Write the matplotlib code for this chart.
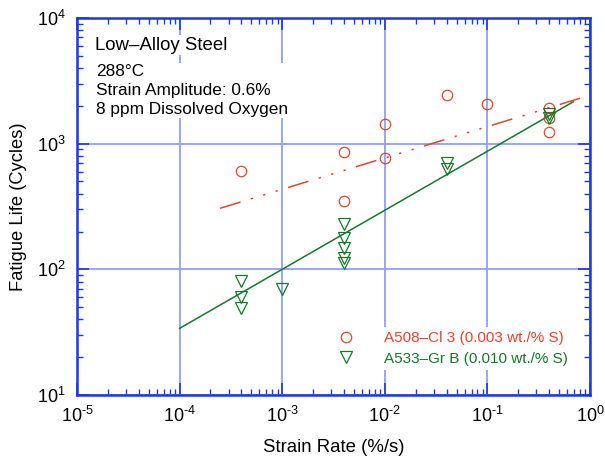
import matplotlib
matplotlib.use("Agg")
import matplotlib.pyplot as plt
import numpy as np

plt.rcParams['font.family'] = ['Liberation Sans', 'DejaVu Sans']
plt.rcParams['mathtext.fontset'] = 'custom'
plt.rcParams['mathtext.rm'] = 'Liberation Sans'
plt.rcParams['mathtext.it'] = 'Liberation Sans'
plt.rcParams['axes.unicode_minus'] = False

# Data (strain rate %/s, fatigue life cycles)
a508_rate = [4e-4, 4e-3, 4e-3, 1e-2, 1e-2, 4e-2, 1e-1, 4e-1, 4e-1, 4e-1]
a508_life = [609, 863, 350, 1427, 769, 2454, 2080, 1914, 1610, 1239]
a533_rate = [4e-4, 4e-4, 4e-4, 1e-3, 4e-3, 4e-3, 4e-3, 4e-3, 4e-3, 4e-2, 4e-2, 4e-1, 4e-1]
a533_life = [81, 60, 49, 70, 231, 177, 147, 122, 113, 698, 626, 1713, 1592]

# Fit lines
a508_fit_rate = [2.48e-4, 0.8]
a508_fit_life = [306, 2297]
a533_fit_rate = [1e-4, 0.687]
a533_fit_life = [33.9, 2153]

red = '#e8432c'
green = '#17782a'
blue = '#1c38e0'
grid = '#8fa0f2'


def pow10_fmt(v, pos):
    e = int(round(np.log10(v)))
    return '$10^{\\text{%d}}$' % e


fig = plt.figure(figsize=(6.05, 4.59), dpi=100)
ax = fig.add_axes([77/605, 1-395/459, (590-77)/605, (395-18)/459])
ax.set_xscale('log')
ax.set_yscale('log')
ax.set_xlim(1e-5, 1)
ax.set_ylim(10, 1e4)

ax.grid(True, which='major', color=grid, linewidth=1.3, zorder=0)

ax.plot(a508_fit_rate, a508_fit_life, color=red, linewidth=1.1,
        dashes=(14, 7, 1.5, 7, 1.5, 7, 1.5, 7), zorder=2)
ax.plot(a533_fit_rate, a533_fit_life, color=green, linewidth=1.1, zorder=2)

ax.plot(a508_rate, a508_life, linestyle='none', marker='o', markersize=7.5,
        markerfacecolor='none', markeredgecolor=red, markeredgewidth=0.9, zorder=3,
        label='A508\u2013Cl 3 (0.003 wt./% S)')
ax.plot(a533_rate, a533_life, linestyle='none', marker='v', markersize=8.5,
        markerfacecolor='none', markeredgecolor=green, markeredgewidth=0.9, zorder=3,
        label='A533\u2013Gr B (0.010 wt./% S)')

for s in ax.spines.values():
    s.set_color(blue)
    s.set_linewidth(1.8)

ax.tick_params(which='both', direction='in', top=True, right=True, color=blue,
               labelsize=13, labelcolor='black')
ax.tick_params(which='major', length=8.5, width=1.2, pad=8)
ax.tick_params(which='minor', length=4.5, width=1.0)
ax.xaxis.set_minor_locator(matplotlib.ticker.LogLocator(base=10, subs=np.arange(2, 10), numticks=20))
ax.yaxis.set_minor_locator(matplotlib.ticker.LogLocator(base=10, subs=np.arange(2, 10), numticks=20))
ax.xaxis.set_minor_formatter(matplotlib.ticker.NullFormatter())
ax.yaxis.set_minor_formatter(matplotlib.ticker.NullFormatter())
ax.xaxis.set_major_formatter(matplotlib.ticker.FuncFormatter(pow10_fmt))
ax.yaxis.set_major_formatter(matplotlib.ticker.FuncFormatter(pow10_fmt))

ax.set_xlabel('Strain Rate (%/s)', fontsize=13.4, labelpad=9)
ax.set_ylabel('Fatigue Life (Cycles)', fontsize=13.2, labelpad=7)

ax.text(0.036, 0.928, 'Low\u2013Alloy Steel', transform=ax.transAxes, fontsize=13.4,
        va='center', ha='left', zorder=4,
        bbox=dict(facecolor='white', edgecolor='none', pad=1))
ax.text(0.037, 0.877, '288\u00b0C\nStrain Amplitude: 0.6%\n8 ppm Dissolved Oxygen',
        transform=ax.transAxes, fontsize=12.4, va='top', ha='left', linespacing=1.3,
        zorder=4, bbox=dict(facecolor='white', edgecolor='none', pad=1))

leg = ax.legend(loc='lower right', bbox_to_anchor=(0.98, 0.045), frameon=True,
                fontsize=11, handletextpad=1.47, borderpad=0.3, labelspacing=0.43,
                edgecolor='none', facecolor='white', framealpha=1)
for t, c in zip(leg.get_texts(), [red, green]):
    t.set_color(c)

fig.savefig('out.png', dpi=100)
